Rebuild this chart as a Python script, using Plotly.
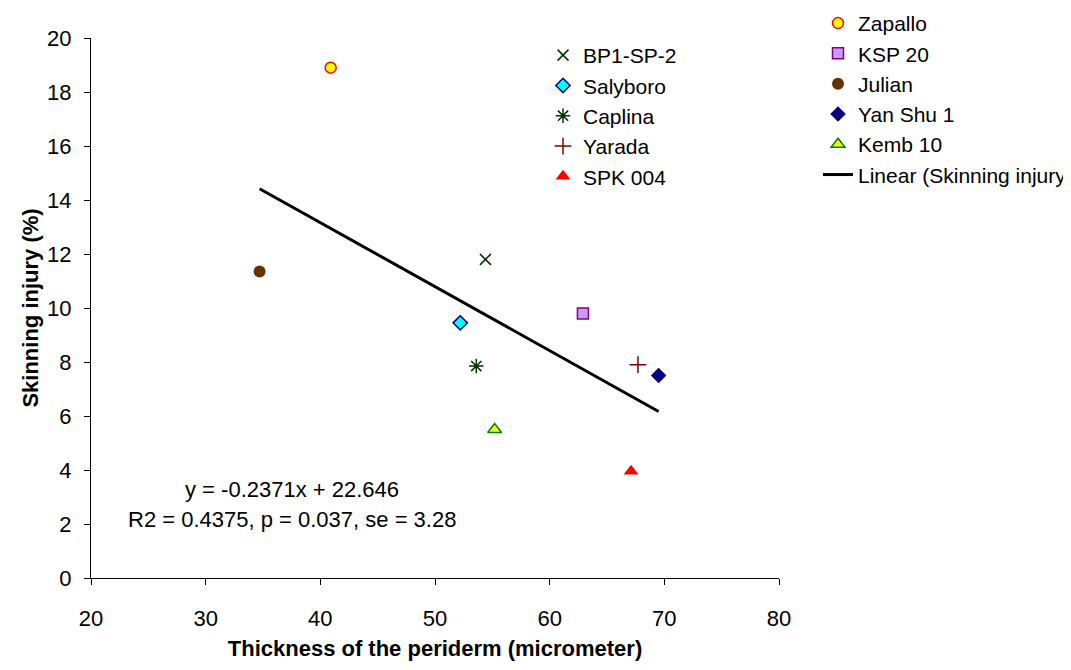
import plotly.graph_objects as go

# ---- data ----
names = ["BP1-SP-2", "Salyboro", "Caplina", "Yarada", "SPK 004",
         "Zapallo", "KSP 20", "Julian", "Yan Shu 1", "Kemb 10"]
thickness = [54.4, 52.2, 53.6, 67.7, 67.1, 40.9, 62.9, 34.7, 69.5, 55.2]
injury = [11.8, 9.45, 7.85, 7.9, 3.95, 18.9, 9.8, 11.35, 7.5, 5.5]
slope = -0.2371
intercept = 22.646
eq_lines = ["y = -0.2371x + 22.646", "R2 = 0.4375, p = 0.037, se = 3.28"]
x_ticks = [20, 30, 40, 50, 60, 70, 80]
y_ticks = [0, 2, 4, 6, 8, 10, 12, 14, 16, 18, 20]

# ---- styles ----
styles = {
    "BP1-SP-2": dict(symbol="x-thin", size=11, color="#003300", line=dict(color="#003300", width=1.5)),
    "Salyboro": dict(symbol="diamond", size=11, color="#00FFFF", line=dict(color="#000080", width=1.5)),
    "Caplina": dict(symbol="asterisk", size=12, color="#003300", line=dict(color="#003300", width=1.5)),
    "Yarada": dict(symbol="cross-thin", size=12, color="#800000", line=dict(color="#800000", width=1.5)),
    "SPK 004": dict(symbol="triangle-up", size=13, color="#FF0000", line=dict(color="#FF0000", width=0)),
    "Zapallo": dict(symbol="circle", size=11, color="#FFFF00", line=dict(color="#FF0000", width=1.5)),
    "KSP 20": dict(symbol="square", size=11, color="#CC99FF", line=dict(color="#800080", width=1.5)),
    "Julian": dict(symbol="circle", size=12, color="#663300", line=dict(color="#663300", width=0)),
    "Yan Shu 1": dict(symbol="diamond", size=12, color="#000080", line=dict(color="#000080", width=0)),
    "Kemb 10": dict(symbol="triangle-up", size=12, color="#FFFF00", line=dict(color="#008000", width=1.5)),
}
legend_of = {n: ("legend" if i < 5 else "legend2") for i, n in enumerate(names)}

fig = go.Figure()
for i, n in enumerate(names):
    fig.add_trace(go.Scatter(
        x=[thickness[i]], y=[injury[i]], mode="markers", name=n,
        marker=styles[n], legend=legend_of[n],
    ))

xmin, xmax = min(thickness), max(thickness)
fig.add_trace(go.Scatter(
    x=[xmin, xmax], y=[slope * xmin + intercept, slope * xmax + intercept],
    mode="lines", line=dict(color="black", width=3),
    name="Linear (Skinning injury)", legend="legend2",
))

font_family = "Liberation Sans, Arial, sans-serif"
FS = 22
LFS = 21

fig.add_annotation(x=37.5, y=3.26, xref="x", yref="y", text=eq_lines[0],
                   showarrow=False, font=dict(size=FS, color="black", family=font_family))
fig.add_annotation(x=37.5, y=2.15, xref="x", yref="y", text=eq_lines[1],
                   showarrow=False, font=dict(size=FS, color="black", family=font_family))

axis_common = dict(
    showgrid=False, zeroline=False, showline=True, linecolor="black", linewidth=1,
    ticks="outside", ticklen=6, tickcolor="black", tickwidth=1,
    tickfont=dict(size=FS, color="black", family=font_family),
)

fig.update_layout(
    width=1071, height=670,
    margin=dict(l=83, r=300, t=30, b=100, autoexpand=False),
    paper_bgcolor="white", plot_bgcolor="white",
    font=dict(family=font_family, color="black"),
    xaxis=dict(range=[20, 80], tickvals=x_ticks, ticklabelstandoff=15,
               title=dict(text="<b>Thickness of the periderm (micrometer)</b>",
                          font=dict(size=FS, color="black", family=font_family), standoff=10),
               **axis_common),
    yaxis=dict(range=[0, 20], tickvals=y_ticks, ticklabelstandoff=8,
               title=dict(text="<b>Skinning injury (%)</b>",
                          font=dict(size=FS, color="black", family=font_family), standoff=2),
               **axis_common),
    legend=dict(xref="paper", yref="paper", x=0.657, y=1.0056,
                xanchor="left", yanchor="top", bgcolor="rgba(0,0,0,0)",
                font=dict(size=LFS, color="black", family=font_family)),
    legend2=dict(xref="paper", yref="paper", x=1.0567, y=1.065,
                 xanchor="left", yanchor="top", bgcolor="rgba(0,0,0,0)",
                 font=dict(size=LFS, color="black", family=font_family)),
)

fig.write_html("out.html")
